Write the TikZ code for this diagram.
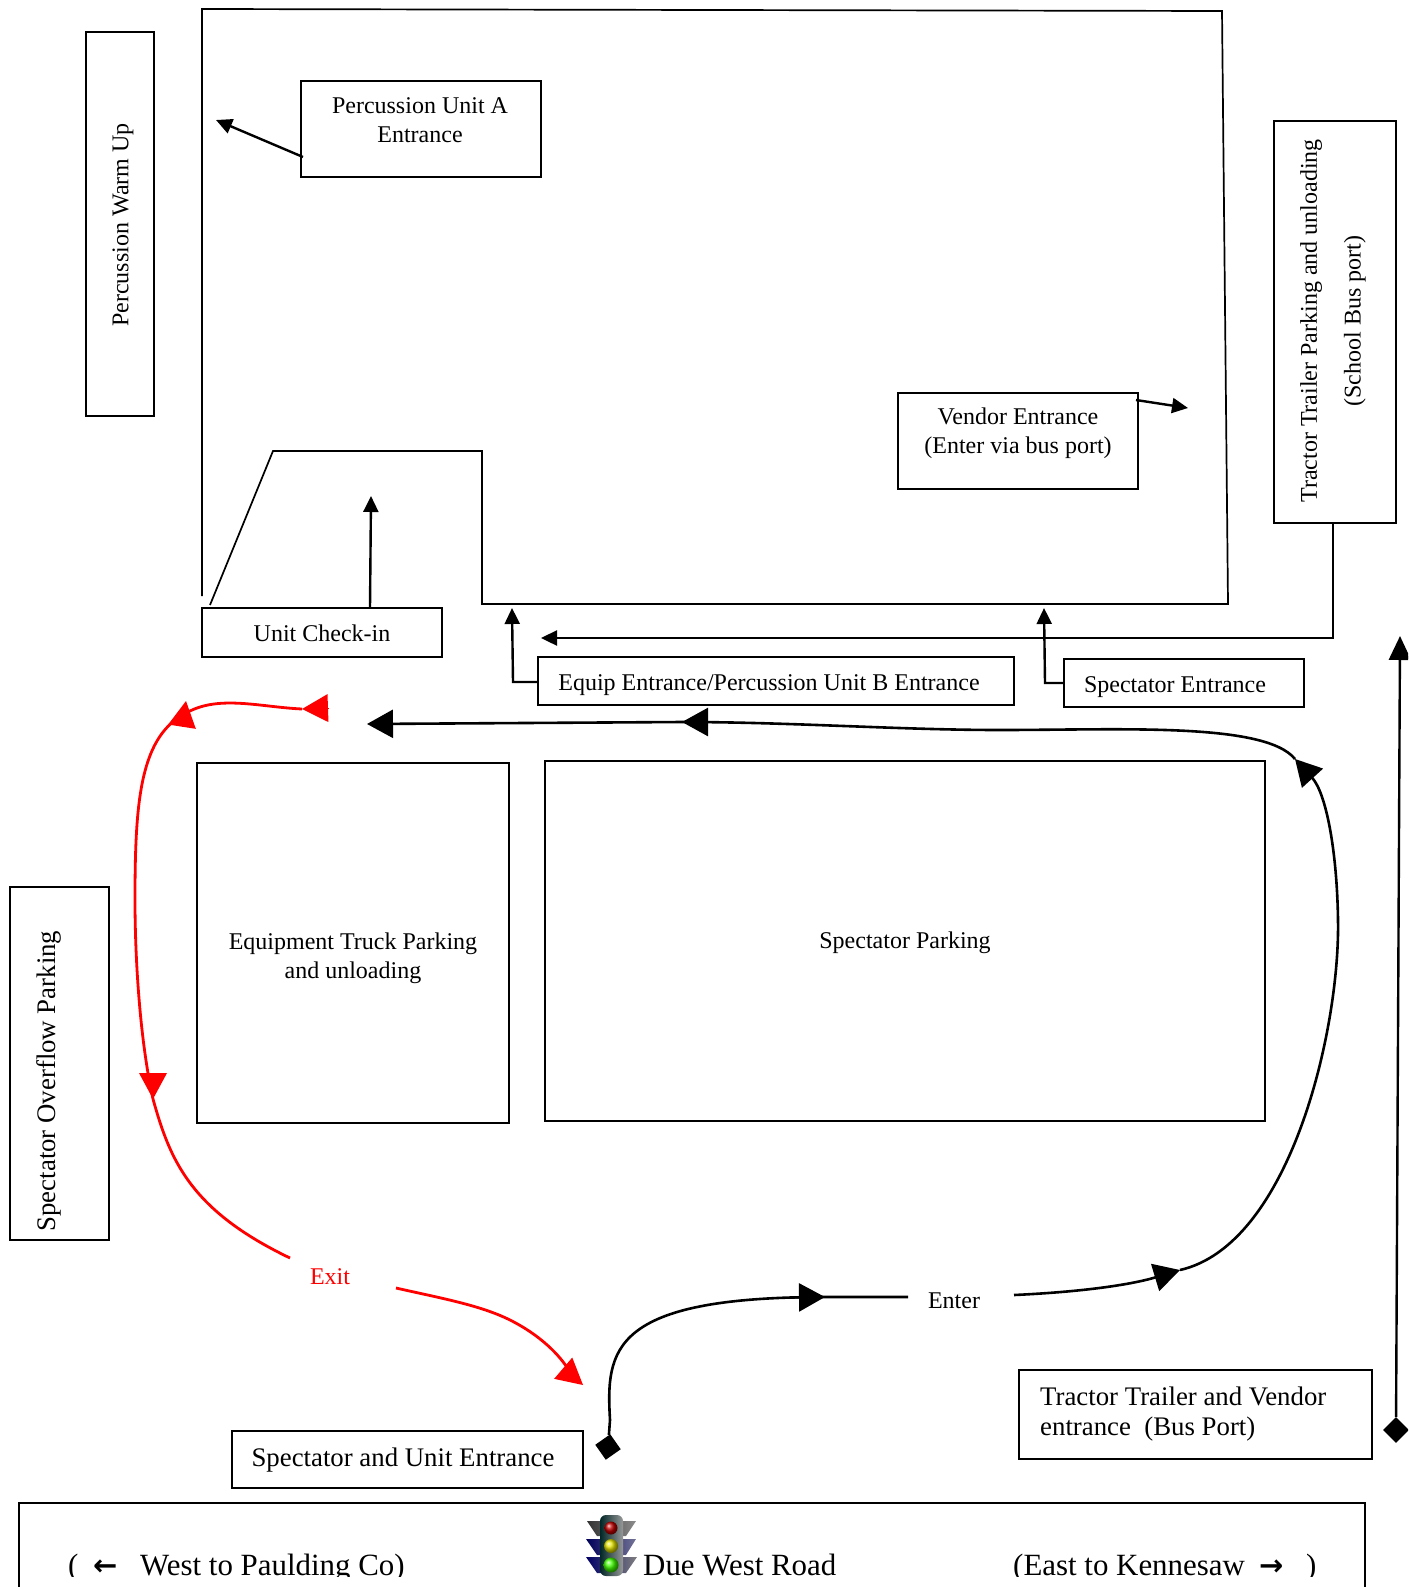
\documentclass[tikz,border=0pt]{standalone}
\usepackage{fontspec}
\setmainfont{Liberation Serif}
\newfontfamily\symfont{DejaVu Sans}
\usetikzlibrary{arrows.meta,positioning,shapes.geometric}
\tikzset{
  boxnode/.style={draw,line width=1.8pt,anchor=north west,inner sep=0pt,xshift=-0.8pt,yshift=0.8pt},
  labeltext/.style={font=\fontsize{24}{28.6}\selectfont,align=center,inner sep=0pt},
  bigtext/.style={font=\fontsize{26.8}{30}\selectfont,inner sep=0pt},
  roadtext/.style={font=\fontsize{30.9}{34}\selectfont,anchor=base west,inner sep=0pt},
  smallarrow/.style={line width=2.4pt,-{Triangle[length=16pt,width=15pt]}},
  bigarrow/.style={line width=2.6pt,-{Triangle[length=26pt,width=28pt]}},
  diamondend/.style={diamond,fill=black,inner sep=0pt,minimum size=26pt},
  redroute/.style={red,line width=2.8pt},
  blackroute/.style={black,line width=2.6pt},
  redtip/.style={line width=0pt,red,-{Triangle[length=26pt,width=28pt]}},
}
\begin{document}
\begin{tikzpicture}[x=1pt,y=-1pt]
\useasboundingbox (0,0) rectangle (1408,1587);
\clip (0,0) rectangle (1408,1587);
% site outline
\draw[line width=1.7pt] (202,596) -- (202,9) -- (1222,11) -- (1228,604) -- (482,604) -- (482,451) -- (273,451) -- (210,605);
% boxes
\node[boxnode,minimum width=68,minimum height=384] (warmup) at (86,32) {};
\node[labeltext,rotate=90] (warmuptext) at (123,225) {Percussion Warm Up};
\node[boxnode,minimum width=240,minimum height=96] (unita) at (301,81) {};
\node[labeltext] (unitatext) at (420,120) {Percussion Unit A\\Entrance};
\node[boxnode,minimum width=240,minimum height=96] (vendor) at (898,393) {};
\node[labeltext] (vendortext) at (1018,433) {Vendor Entrance\\(Enter via bus port)};
\node[boxnode,minimum width=122,minimum height=402] (trailer) at (1274,121) {};
\node[labeltext,rotate=90] (trailertext) at (1333,321) {Tractor Trailer Parking and unloading\\[15pt](School Bus port)};
\node[boxnode,minimum width=240,minimum height=49] (checkin) at (202,608) {};
\node[labeltext] (checkintext) at (322,633) {Unit Check-in};
\node[boxnode,minimum width=476,minimum height=48] (equip) at (538,657) {};
\node[labeltext] (equiptext) at (769,685) {Equip Entrance/Percussion Unit B Entrance};
\node[boxnode,minimum width=240,minimum height=48] (specent) at (1064,659) {};
\node[labeltext] (specenttext) at (1175,687) {Spectator Entrance};
\node[boxnode,minimum width=312,minimum height=360] (truck) at (197,763) {};
\node[labeltext] (trucktext) at (353,958) {Equipment Truck Parking\\and unloading};
\node[boxnode,minimum width=720,minimum height=360] (parking) at (545,761) {};
\node[labeltext] (parkingtext) at (905,943) {Spectator Parking};
\node[boxnode,minimum width=99,minimum height=353] (overflow) at (10,887) {};
\node[bigtext,rotate=90] (overflowtext) at (49,1081) {Spectator Overflow Parking};
\node[boxnode,minimum width=351,minimum height=57] (mainent) at (232,1431) {};
\node[bigtext] (mainenttext) at (403,1460) {Spectator and Unit Entrance};
\node[boxnode,minimum width=353,minimum height=89] (busport) at (1019,1370) {};
\node[bigtext,align=left,anchor=west] (busporttext) at (1040,1414) {Tractor Trailer and Vendor\\entrance\ \ (Bus Port)};
\node[boxnode,minimum width=1346,minimum height=120] (road) at (19,1503) {};
% road line
\node[roadtext] (p1) at (68,1575) {(};
\node[roadtext] (westarrow) at (93,1575) {\symfont\bfseries\fontsize{29}{30}\selectfont ←};
\node[roadtext] (west) at (140,1575) {West to Paulding Co)};
\node[roadtext] (duewest) at (643,1575) {Due West Road};
\node[roadtext] (east) at (1013,1575) {(East to Kennesaw};
\node[roadtext] (eastarrow) at (1259,1575) {\symfont\bfseries\fontsize{29}{30}\selectfont →};
\node[roadtext] (p2) at (1306,1575) {)};
\fill[white] (20,1577) rectangle (1362,1587);
% traffic light
\shade[left color=black!80,right color=black!45] (587,1521) -- (636,1521) -- (626,1536) -- (597,1536) -- cycle;
\shade[left color=blue!35!black,right color=blue!25!black!55] (586,1539) -- (636,1539) -- (626,1555) -- (597,1555) -- cycle;
\shade[left color=blue!40!black,right color=black!50] (586,1557) -- (637,1557) -- (626,1573) -- (597,1573) -- cycle;
\shade[left color=teal!30!black,right color=black!40,rounded corners=6pt] (600,1515) rectangle (623,1576);
\shade[ball color=red!75!black] (611,1528) circle (6.5);
\shade[ball color=yellow!90!black] (611,1546) circle (7);
\shade[ball color=green!75!yellow] (611,1565) circle (7.5);
% small arrows
\coordinate (unitatip) at (216,120);
\coordinate (vendortip) at (1188,408);
\coordinate (checkintip) at (371,496);
\coordinate (equipbend) at (513,682);
\coordinate (equiptip) at (512,608);
\coordinate (specbend) at (1045,683);
\coordinate (spectip) at (1044,608);
\coordinate (trailerbend) at (1333,638);
\coordinate (trailertip) at (541,638);
\draw[smallarrow] (303,157) -- (unitatip);
\draw[smallarrow] (1136,400) -- (vendortip);
\draw[smallarrow] (370,608) -- (checkintip);
\draw[smallarrow] (equip.west |- equipbend) -- (equipbend) -- (equiptip);
\draw[smallarrow] (specent.west |- specbend) -- (specbend) -- (spectip);
\draw[smallarrow] (trailer.south -| trailerbend) -- (trailerbend) -- (trailertip);
% bus port route
\node[diamondend] (busdiamond) at (1396,1430) {};
\coordinate (bustip) at (1400,636);
\draw[line width=2.4pt,-{Triangle[length=24pt,width=22pt]}] (busdiamond) -- (bustip);
% black route
\node[diamondend,rotate=-10] (maindiamond) at (608,1447) {};
\node[labeltext] (enter) at (954,1301) {Enter};
\coordinate (b1) at (825,1297);
\coordinate (b2) at (1180,1270);
\coordinate (b3) at (1295,759);
\coordinate (b4) at (682,722);
\coordinate (b5) at (367,724);
\draw[blackroute] (maindiamond) -- (610,1420) .. controls (606,1350) and (610,1297) .. (b1) -- (908,1297);
\draw[bigarrow] (790,1297.5) -- (b1);
\draw[bigarrow] (1014,1295) .. controls (1080,1292) and (1130,1285) .. (b2);
\draw[bigarrow] (b2) .. controls (1290,1245) and (1340,1030) .. (1338,920) .. controls (1337,850) and (1326,793) .. (b3);
\draw[blackroute] (b3) .. controls (1265,722) and (1120,730) .. (1000,730) .. controls (900,730) and (790,722) .. (b4);
\draw[bigarrow] (712,722) -- (b4);
\draw[bigarrow] (b4) -- (b5);
% red route
\node[labeltext,red] (exit) at (330,1277) {Exit};
\coordinate (r1) at (302,709);
\coordinate (r2) at (186,701);
\coordinate (r3) at (153,1099);
\coordinate (r4) at (583,1385);
\draw[redroute] (r1) .. controls (260,707) and (220,695) .. (188,712) .. controls (140,735) and (135,800) .. (135,900) .. controls (135,960) and (140,1040) .. (r3);
\draw[redroute] (r3) .. controls (170,1160) and (190,1210) .. (290,1258);
\draw[redroute] (396,1288) .. controls (440,1298) and (480,1305) .. (510,1320) .. controls (540,1335) and (560,1355) .. (570,1372);
\draw[redtip] (328,708.1) -- (r1);
\draw[redtip] (182,726.7) -- (r2);
\draw[redtip] (153,1073) -- (r3);
\draw[redtip] (563,1368) -- (r4);
\end{tikzpicture}
\end{document}
